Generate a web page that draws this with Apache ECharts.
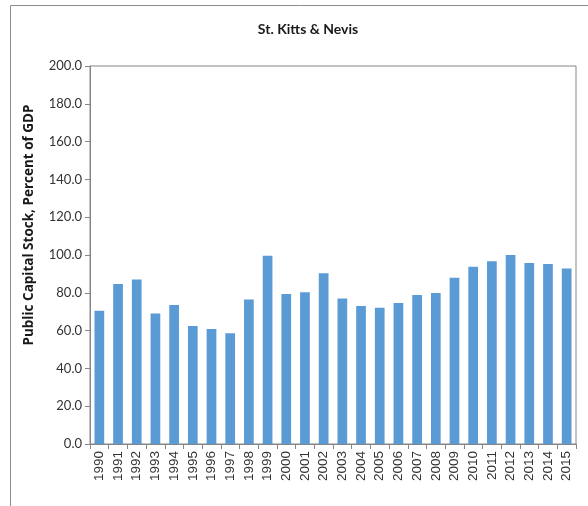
<!DOCTYPE html>
<html>
<head>
<meta charset="utf-8">
<script src="https://cdn.jsdelivr.net/npm/echarts@6/dist/echarts.min.js"></script>
<style>
  html, body { margin: 0; padding: 0; background: #fff; }
  #chart { width: 588px; height: 506px; }
</style>
</head>
<body>
<div id="chart"></div>
<script>
// Data
const years = ['1990', '1991', '1992', '1993', '1994', '1995', '1996', '1997', '1998', '1999',
  '2000', '2001', '2002', '2003', '2004', '2005', '2006', '2007', '2008', '2009',
  '2010', '2011', '2012', '2013', '2014', '2015'];
const capitalStock = [70.5, 84.7, 87.1, 69.1, 73.5, 62.4, 60.8, 58.6, 76.4, 99.6,
  79.4, 80.3, 90.3, 77.0, 73.0, 72.1, 74.6, 78.8, 79.9, 88.0,
  93.8, 96.7, 100.0, 95.8, 95.2, 92.8];
const yTitle = 'Public Capital Stock, Percent of GDP';

const chart = echarts.init(document.getElementById('chart'));

const axisGray = '#868686';

const option = {
  animation: false,
  backgroundColor: '#fff',
  title: {
    text: 'St. Kitts & Nevis',
    left: 303,
    top: 17,
    textAlign: 'center',
    textStyle: {
      fontFamily: 'Lato',
      fontWeight: 'bold',
      fontSize: 14,
      color: '#1a1a1a',
    },
  },
  graphic: [
    {
      // outer chart frame (left and top edges visible)
      type: 'rect',
      shape: { x: 10.5, y: 5.5, width: 700, height: 700 },
      style: { fill: 'none', stroke: '#8c8c8c', lineWidth: 1 },
      silent: true,
    },
    {
      // y axis title, sits a bit above the middle of the axis
      type: 'text',
      x: 29,
      y: 225,
      rotation: Math.PI / 2,
      style: {
        text: yTitle,
        align: 'center',
        verticalAlign: 'middle',
        fontFamily: 'Open Sans',
        fontWeight: 'bold',
        fontSize: 13.5,
        fill: '#1a1a1a',
      },
      silent: true,
    },
  ],
  grid: {
    left: 90,
    right: 12,
    top: 66,
    bottom: 62,
    show: true,
    borderColor: axisGray,
    borderWidth: 1,
  },
  xAxis: {
    type: 'category',
    data: years,
    axisLine: { lineStyle: { color: axisGray, width: 1 } },
    axisTick: { show: true, length: 5, lineStyle: { color: axisGray } },
    axisLabel: {
      rotate: 90,
      interval: 0,
      margin: 7,
      fontFamily: 'Liberation Sans',
      fontSize: 13.5,
      color: '#333',
    },
  },
  yAxis: {
    type: 'value',
    min: 0,
    max: 200,
    interval: 20,
    axisLine: { show: true, lineStyle: { color: axisGray, width: 1 } },
    axisTick: { show: true, length: 5, lineStyle: { color: axisGray } },
    splitLine: { show: false },
    axisLabel: {
      formatter: (value) => value.toFixed(1),
      margin: 8,
      fontFamily: 'Lato',
      fontSize: 13,
      color: '#333',
    },
  },
  series: [
    {
      name: 'Public Capital Stock',
      type: 'bar',
      data: capitalStock,
      barCategoryGap: '48%',
      itemStyle: {
        color: '#5b9bd5',
      },
    },
  ],
};

chart.setOption(option);
</script>
</body>
</html>
